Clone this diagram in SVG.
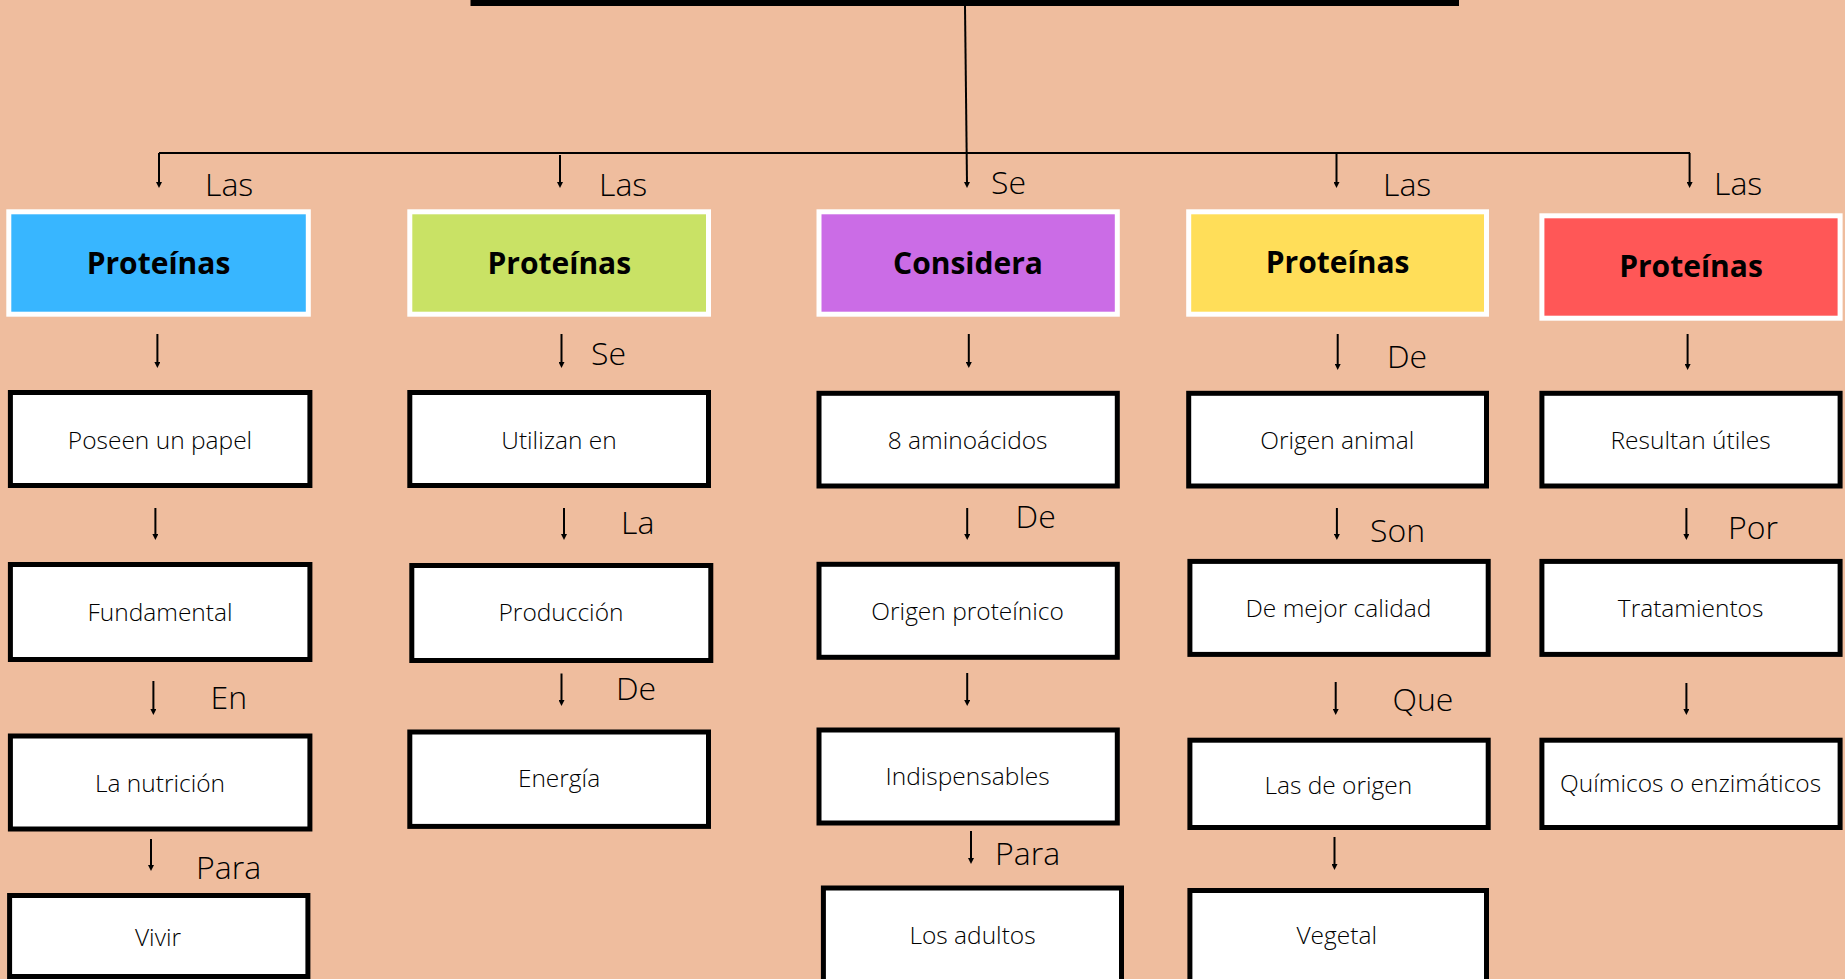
<svg xmlns="http://www.w3.org/2000/svg" width="1845" height="979" viewBox="0 0 1845 979">
  <style>
    .bg { fill: #EFBD9E; }
    .head rect { stroke: #FFFFFF; stroke-width: 5; }
    .head text { font-family: "Open Sans", "Liberation Sans", sans-serif; font-weight: 700; font-size: 30px; fill: #000000; text-anchor: middle; }
    .box rect { fill: #FFFFFF; stroke: #000000; stroke-width: 5; }
    .box text { font-family: "Open Sans", "Liberation Sans", sans-serif; font-weight: 300; font-size: 24.5px; fill: #000000; text-anchor: middle; }
    .lbl { font-family: "Open Sans", "Liberation Sans", sans-serif; font-weight: 300; font-size: 32px; fill: #000000; }
    .conn path { fill: none; stroke: #000000; stroke-width: 2; }
    .arr { marker-end: url(#ah); }
  </style>
  <defs>
    <marker id="ah" markerUnits="userSpaceOnUse" markerWidth="6" markerHeight="6" viewBox="0 0 6 6" refX="2" refY="3" orient="auto">
      <path d="M0,0 L6,3 L0,6 z" fill="#000000"/>
    </marker>
  </defs>

  <rect class="bg" x="0" y="0" width="1845" height="979"/>

  <!-- title bar (lower edge only) -->
  <rect id="title" x="470.5" y="-10" width="988.5" height="16" fill="#000000"/>

  <!-- connectors -->
  <g id="connectors" class="conn">
    <path class="arr" d="M965,6 L967,184"/>
    <path d="M159,153 H1690"/>
    <path class="arr" d="M159,153 V184"/>
    <path class="arr" d="M560,155 V184"/>
    <path class="arr" d="M1336.5,153 V184"/>
    <path class="arr" d="M1689.6,153 V184"/>

    <path class="arr" d="M157.4,334 V364"/>
    <path class="arr" d="M155.4,508 V536"/>
    <path class="arr" d="M153.4,681 V711"/>
    <path class="arr" d="M151,839 V867"/>

    <path class="arr" d="M561.5,334 V364"/>
    <path class="arr" d="M564,508 V536"/>
    <path class="arr" d="M561.5,673.5 V702"/>

    <path class="arr" d="M968.8,334 V364"/>
    <path class="arr" d="M967.2,508 V536"/>
    <path class="arr" d="M967.2,673 V702"/>
    <path class="arr" d="M971,831 V860"/>

    <path class="arr" d="M1337.7,334 V366"/>
    <path class="arr" d="M1336.9,508 V536"/>
    <path class="arr" d="M1335.7,682 V711"/>
    <path class="arr" d="M1334.5,837 V866"/>

    <path class="arr" d="M1687.6,334 V366"/>
    <path class="arr" d="M1686.4,508 V536"/>
    <path class="arr" d="M1686.4,683 V711"/>
  </g>

  <!-- connector labels -->
  <g id="labels">
    <text class="lbl" x="205" y="196">Las</text>
    <text class="lbl" x="599" y="196">Las</text>
    <text class="lbl" x="991" y="194">Se</text>
    <text class="lbl" x="1383" y="196">Las</text>
    <text class="lbl" x="1714" y="194.5">Las</text>
    <text class="lbl" x="591" y="365">Se</text>
    <text class="lbl" x="621" y="534">La</text>
    <text class="lbl" x="616" y="700">De</text>
    <text class="lbl" x="210.5" y="708.7">En</text>
    <text class="lbl" x="196" y="879">Para</text>
    <text class="lbl" x="1015.6" y="528">De</text>
    <text class="lbl" x="995" y="865">Para</text>
    <text class="lbl" x="1387" y="368">De</text>
    <text class="lbl" x="1370" y="542">Son</text>
    <text class="lbl" x="1392.5" y="711">Que</text>
    <text class="lbl" x="1728" y="539">Por</text>
  </g>

  <!-- header nodes -->
  <g id="head-1" class="head">
    <rect x="8.8" y="211.8" width="299.5" height="102.4" fill="#38B6FF"/>
    <text x="158.5" y="274">Proteínas</text>
  </g>
  <g id="head-2" class="head">
    <rect x="409.8" y="211.8" width="298.7" height="102.4" fill="#C9E265"/>
    <text x="559.3" y="274">Proteínas</text>
  </g>
  <g id="head-3" class="head">
    <rect x="819" y="211.8" width="298.3" height="102.4" fill="#CB6CE6"/>
    <text x="968" y="274">Considera</text>
  </g>
  <g id="head-4" class="head">
    <rect x="1188.7" y="211.8" width="297.8" height="102.4" fill="#FFDE59"/>
    <text x="1337.6" y="273">Proteínas</text>
  </g>
  <g id="head-5" class="head">
    <rect x="1541.9" y="215.8" width="298.2" height="102.4" fill="#FF5757"/>
    <text x="1691" y="277">Proteínas</text>
  </g>

  <!-- column 1 -->
  <g id="poseen" class="box">
    <rect x="10.4" y="392.5" width="299.5" height="93"/>
    <text x="160" y="449">Poseen un papel</text>
  </g>
  <g id="fundamental" class="box">
    <rect x="10.4" y="564.5" width="299.5" height="95"/>
    <text x="160" y="621">Fundamental</text>
  </g>
  <g id="nutricion" class="box">
    <rect x="10.4" y="736" width="299.5" height="93"/>
    <text x="160" y="792">La nutrición</text>
  </g>
  <g id="vivir" class="box">
    <rect x="9.6" y="895.5" width="298.3" height="81"/>
    <text x="158" y="945.5">Vivir</text>
  </g>

  <!-- column 2 -->
  <g id="utilizan" class="box">
    <rect x="409.8" y="392.5" width="298.7" height="93"/>
    <text x="559" y="449">Utilizan en</text>
  </g>
  <g id="produccion" class="box">
    <rect x="411.8" y="565.5" width="299" height="95"/>
    <text x="561" y="621">Producción</text>
  </g>
  <g id="energia" class="box">
    <rect x="409.8" y="732" width="298.7" height="94.4"/>
    <text x="559" y="786.5">Energía</text>
  </g>

  <!-- column 3 -->
  <g id="aminoacidos" class="box">
    <rect x="819" y="393.3" width="298.3" height="92.7"/>
    <text x="967.6" y="449">8 aminoácidos</text>
  </g>
  <g id="origen-proteinico" class="box">
    <rect x="819" y="564.3" width="298.3" height="93"/>
    <text x="967.6" y="620">Origen proteínico</text>
  </g>
  <g id="indispensables" class="box">
    <rect x="819" y="730" width="298.3" height="93"/>
    <text x="967.6" y="785">Indispensables</text>
  </g>
  <g id="adultos" class="box">
    <rect x="823.4" y="888" width="298.1" height="95"/>
    <text x="972.5" y="943.5">Los adultos</text>
  </g>

  <!-- column 4 -->
  <g id="origen-animal" class="box">
    <rect x="1188.7" y="393.3" width="297.8" height="92.7"/>
    <text x="1337.3" y="449">Origen animal</text>
  </g>
  <g id="mejor-calidad" class="box">
    <rect x="1189.9" y="561.4" width="298.3" height="93"/>
    <text x="1338.5" y="617">De mejor calidad</text>
  </g>
  <g id="las-de-origen" class="box">
    <rect x="1189.9" y="740.2" width="298.3" height="87.3"/>
    <text x="1338.3" y="794.4">Las de origen</text>
  </g>
  <g id="vegetal" class="box">
    <rect x="1189.9" y="890.5" width="296.6" height="95"/>
    <text x="1336.7" y="944">Vegetal</text>
  </g>

  <!-- column 5 -->
  <g id="resultan" class="box">
    <rect x="1541.9" y="393.3" width="298.2" height="92.7"/>
    <text x="1690.6" y="449">Resultan útiles</text>
  </g>
  <g id="tratamientos" class="box">
    <rect x="1541.9" y="561.4" width="298.2" height="93"/>
    <text x="1690.6" y="617">Tratamientos</text>
  </g>
  <g id="quimicos" class="box">
    <rect x="1541.9" y="740.2" width="298.2" height="87.3"/>
    <text x="1690.6" y="791.5">Químicos o enzimáticos</text>
  </g>
</svg>
